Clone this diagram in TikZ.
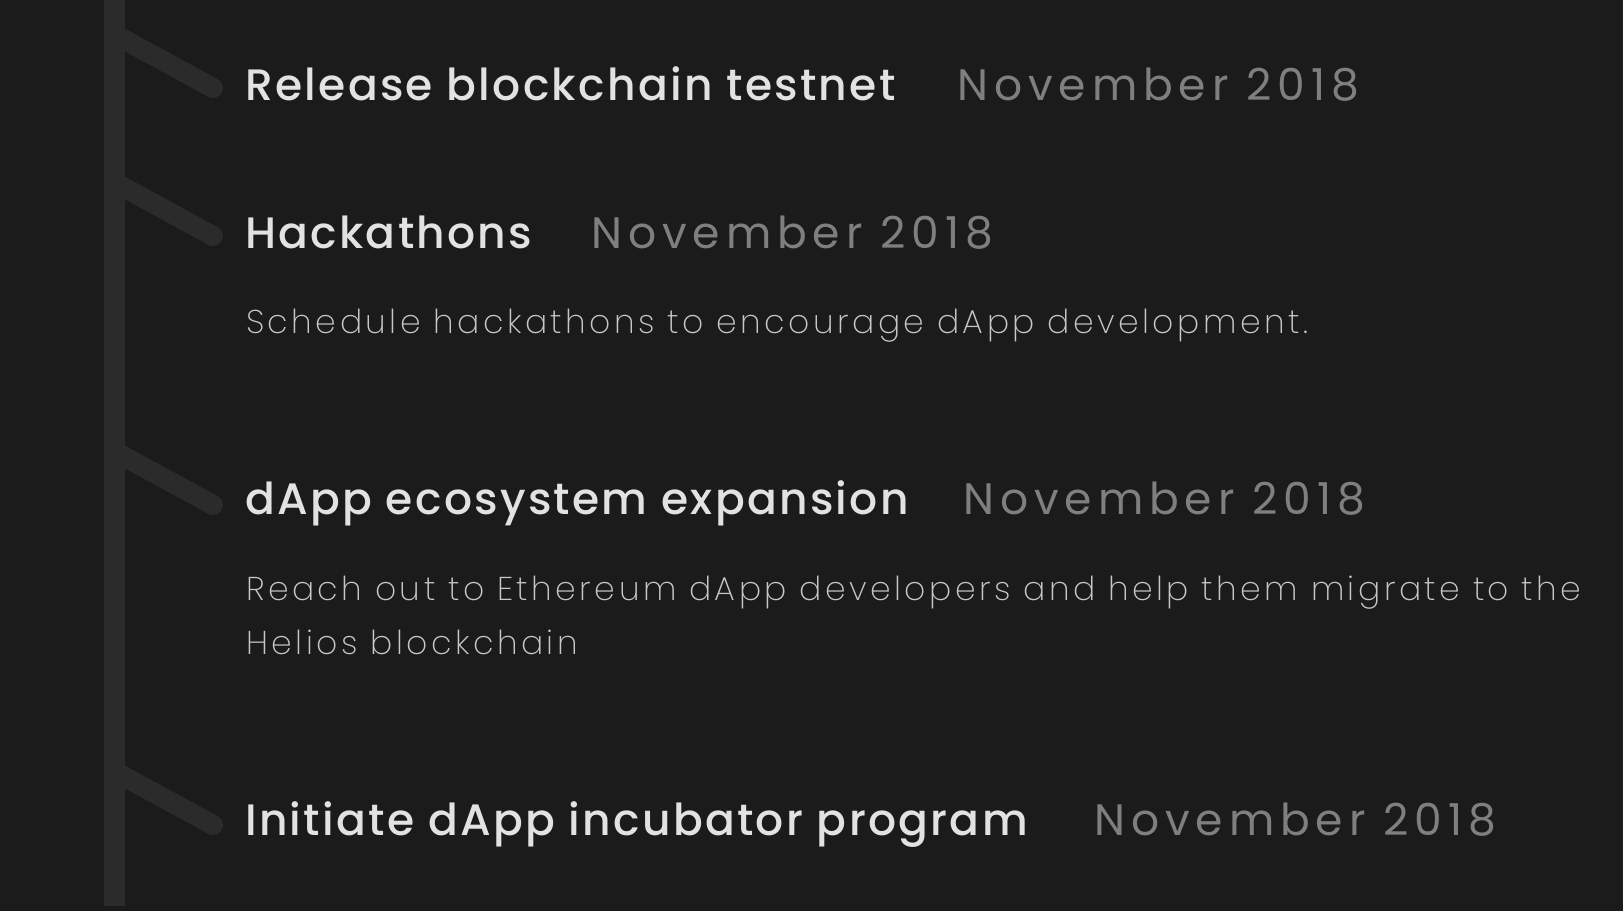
\documentclass[tikz,border=0pt]{standalone}
\usepackage{fontspec}
\setmainfont{Poppins}
\newfontfamily\titlefont{Poppins Medium}[LetterSpace=5.2]
\newfontfamily\datefont{Poppins}[LetterSpace=13.5]
\newfontfamily\descfont{Poppins ExtraLight}[LetterSpace=10.5]
\definecolor{bg}{HTML}{1B1B1B}
\definecolor{barc}{HTML}{2B2B2B}
\definecolor{titlec}{HTML}{E2E2E2}
\definecolor{datec}{HTML}{7F7F7F}
\definecolor{descc}{HTML}{C8C8C8}
\tikzset{
  titletext/.style={anchor=base west, inner sep=0pt, text=titlec, font=\titlefont\fontsize{44}{54}\selectfont},
  datetext/.style={anchor=base west, inner sep=0pt, text=datec, font=\datefont\fontsize{44}{54}\selectfont},
  desctext/.style={anchor=base west, inner sep=0pt, text=descc, font=\descfont\fontsize{33}{54}\selectfont},
  barline/.style={draw=barc, line width=21pt},
  branchline/.style={draw=barc, line width=20pt},
}
\begin{document}
\begin{tikzpicture}[x=1pt,y=-1pt]
\fill[bg] (0,0) rectangle (1623,911);
\useasboundingbox (0,0) rectangle (1623,911);
% bar
\coordinate (bartop) at (114.5,0);
\coordinate (barbot) at (114.5,906);
\draw[barline] (bartop) -- (barbot);
% branches
\foreach \i/\y in {1/88,2/236,3/505,4/825}{
  \coordinate (s\i) at (114.5,\y-53.7);
  \coordinate (e\i) at (213,\y);
  \draw[branchline] (s\i) -- (e\i);
  \fill[barc] (e\i) circle (10pt);
}
% texts
\node[titletext] (t1) at (245,100) {Release blockchain testnet};
\node[datetext] (d1) at (957,100) {November 2018};
\node[titletext] (t2) at (245,248) {Hackathons};
\node[datetext] (d2) at (591,248) {November 2018};
\node[desctext] (p2) at (246,333) {Schedule hackathons to encourage dApp development.};
\node[titletext] (t3) at (245,514) {dApp ecosystem expansion};
\node[datetext] (d3) at (963,514) {November 2018};
\node[desctext] (p3a) at (246,600) {Reach out to Ethereum dApp developers and help them migrate to the};
\node[desctext] (p3b) at (246,654) {Helios blockchain};
\node[titletext] (t4) at (245,835) {Initiate dApp incubator program};
\node[datetext] (d4) at (1094,835) {November 2018};
\end{tikzpicture}
\end{document}
